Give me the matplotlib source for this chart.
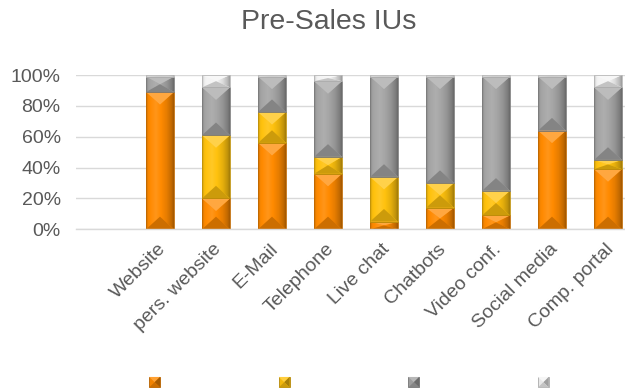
import numpy as np
import matplotlib
matplotlib.use("Agg")
import matplotlib.pyplot as plt
from matplotlib.patches import Polygon, Patch
from matplotlib.legend_handler import HandlerBase
from matplotlib.colors import to_rgb
from matplotlib.ticker import PercentFormatter
from matplotlib.transforms import ScaledTranslation

plt.rcParams["font.family"] = ["Liberation Sans", "DejaVu Sans"]

# Share of each channel (percent of respondents), stacked to 100 %
categories = ["Website", "pers. website", "E-Mail", "Telephone", "Live chat",
              "Chatbots", "Video conf.", "Social media", "Comp. portal"]
orange_vals = [89, 20, 56, 36, 5, 14, 9, 64, 39]
yellow_vals = [0, 41, 20, 11, 29, 16, 16, 0, 6]
gray_vals = [10, 31, 23, 49, 65, 69, 74, 35, 47]
white_vals = [1, 8, 1, 4, 1, 1, 1, 1, 8]
y_ticks = [0, 20, 40, 60, 80, 100]

series = [orange_vals, yellow_vals, gray_vals, white_vals]
colors = ["#FF8A00", "#FFC20E", "#A5A5A5", "#F4F4F4"]
text_col = "#595959"
grid_col = "#D9D9D9"


def shade(color, f):
    c = np.array(to_rgb(color))
    if f >= 1:
        return tuple(c + (1 - c) * (f - 1))
    return tuple(c * f)


def bevel_facets(x0, x1, y0, y1, d):
    c = (x0 + x1) / 2
    top = [(x0, y1), (x1, y1), (c, y1 - d)]
    bottom = [(x0, y0), (x1, y0), (c, y0 + d)]
    body = [(x0, y1), (c, y1 - d), (x1, y1), (x1, y0), (c, y0 + d), (x0, y0)]
    return body, top, bottom


profile_t = np.linspace(0, 1, 64)
profile_f = np.interp(profile_t, [0, 0.08, 0.35, 0.5, 0.75, 0.92, 1.0],
                      [0.80, 0.97, 1.10, 1.02, 0.90, 0.76, 0.64])


def draw_bevel(ax, patch, color, depth_px, ypx_per_unit):
    x0, y0 = patch.get_x(), patch.get_y()
    w, h = patch.get_width(), patch.get_height()
    if h <= 0:
        return
    x1, y1 = x0 + w, y0 + h
    d = min(depth_px / ypx_per_unit, h / 2)
    body, top, bottom = bevel_facets(x0, x1, y0, y1, d)
    img = np.array([[shade(color, f) for f in profile_f]])
    im = ax.imshow(img, extent=[x0, x1, y0, y1], aspect="auto",
                   interpolation="bilinear", zorder=2.1)
    clip = Polygon(body, closed=True, transform=ax.transData)
    im.set_clip_path(clip)
    ax.add_patch(Polygon(top, closed=True, facecolor=shade(color, 1.25),
                         edgecolor="none", zorder=2.2))
    ax.add_patch(Polygon(bottom, closed=True, facecolor=shade(color, 0.8),
                         edgecolor="none", zorder=2.2))
    ax.add_patch(Polygon([(x0, y0), (x1, y0), (x1, y1), (x0, y1)], closed=True,
                         facecolor="none", edgecolor=shade(color, 0.75),
                         linewidth=0.6, zorder=2.3))


class BevelHandler(HandlerBase):
    def create_artists(self, legend, orig_handle, xdescent, ydescent,
                       width, height, fontsize, trans):
        color = orig_handle.get_facecolor()
        x0, y0 = -xdescent, -ydescent
        x1, y1 = x0 + width, y0 + height
        c = (x0 + x1) / 2
        cy = (y0 + y1) / 2
        arts = [
            Polygon([(x0, y0), (x1, y0), (x1, y1), (x0, y1)], closed=True,
                    facecolor=shade(color, 0.95), edgecolor=shade(color, 0.7),
                    linewidth=0.6, transform=trans),
            Polygon([(x0, y1), (x1, y1), (c, cy)], closed=True,
                    facecolor=shade(color, 1.2), edgecolor="none", transform=trans),
            Polygon([(x1, y0), (x1, y1), (c, cy)], closed=True,
                    facecolor=shade(color, 0.65), edgecolor="none", transform=trans),
            Polygon([(x0, y0), (x1, y0), (c, cy)], closed=True,
                    facecolor=shade(color, 0.8), edgecolor="none", transform=trans),
        ]
        return arts


W, H = 625, 392
fig = plt.figure(figsize=(W / 100, H / 100), dpi=100)
ax = fig.add_axes([76 / W, 162.7 / H, 560 / W, 154.3 / H])

x = np.arange(1, len(categories) + 1)
bar_w = 0.5
ax.set_xlim(-0.5, 9.5)
ax.set_ylim(0, 100)

bottoms = np.zeros(len(categories))
bar_groups = []
for vals, col in zip(series, colors):
    bars = ax.bar(x, vals, bar_w, bottom=bottoms, color=col, zorder=2)
    bar_groups.append((bars, col))
    bottoms = bottoms + np.array(vals)

fig.canvas.draw()
p0 = ax.transData.transform((0, 0))
p1 = ax.transData.transform((bar_w, 100))
bar_w_px = p1[0] - p0[0]
ypx_per_unit = (p1[1] - p0[1]) / 100
depth_px = 0.45 * bar_w_px
for bars, col in bar_groups:
    for patch in bars:
        draw_bevel(ax, patch, col, depth_px, ypx_per_unit)

ax.set_xlim(-0.5, 9.5)
ax.set_ylim(0, 100)

ax.set_yticks(y_ticks)
ax.yaxis.set_major_formatter(PercentFormatter(100, decimals=0))
ax.set_xticks(x)
ax.set_xticklabels(categories, rotation=45, ha="right", va="top",
                   rotation_mode="anchor")
ax.tick_params(axis="both", length=0, labelsize=14, labelcolor=text_col)
ax.tick_params(axis="y", pad=11)
ax.tick_params(axis="x", pad=3)
label_shift = ScaledTranslation(-3 / 100, -7 / 100, fig.dpi_scale_trans)
for lab in ax.get_xticklabels():
    lab.set_transform(lab.get_transform() + label_shift)

ax.yaxis.grid(True, color=grid_col, linewidth=1)
ax.set_axisbelow(True)
for side in ["top", "right", "left"]:
    ax.spines[side].set_visible(False)
ax.spines["bottom"].set_color(grid_col)
ax.spines["bottom"].set_linewidth(1)

fig.text(329 / W, 1 - 22 / H, "Pre-Sales IUs", ha="center", va="center",
         fontsize=20.5, color=text_col)

handles = [Patch(facecolor=c) for c in colors]
fig.legend(handles, [""] * 4, ncol=4, loc="center",
           bbox_to_anchor=(349 / W, 1 - 383 / H), frameon=False,
           fontsize=10, handlelength=0.78, handleheight=0.78,
           handletextpad=0, columnspacing=8.55,
           handler_map={Patch: BevelHandler()})

fig.savefig("out.png", dpi=100)
